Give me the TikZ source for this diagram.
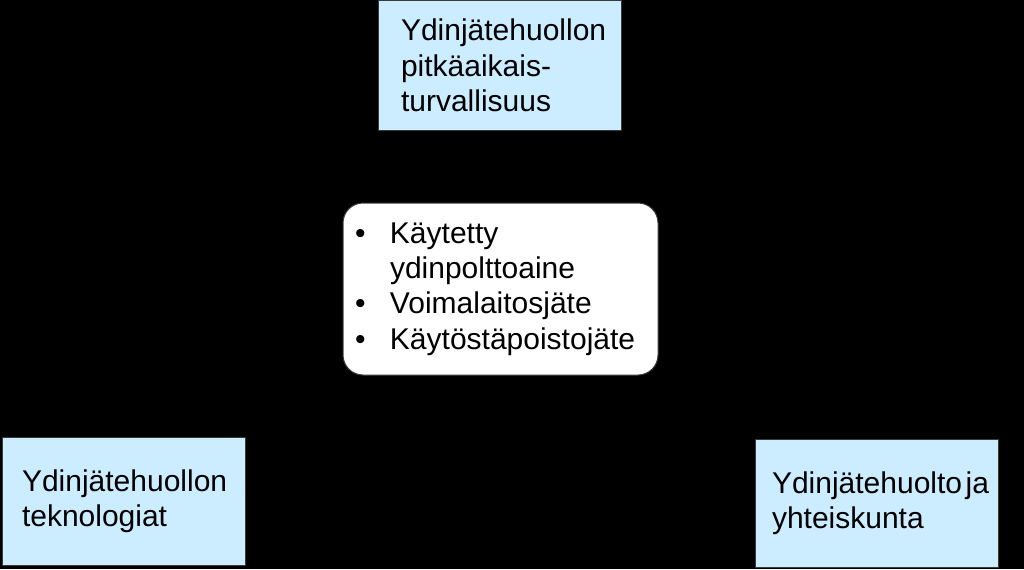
\documentclass[tikz,border=0pt]{standalone}
\usepackage{fontspec}
\setmainfont{Liberation Sans}
\definecolor{boxblue}{HTML}{CCECFF}
\definecolor{edge}{HTML}{3A3A3A}
\begin{document}
\begin{tikzpicture}[x=0.75pt,y=0.75pt,
  every node/.style={font=\fontsize{22.5pt}{26.5pt}\selectfont, text=black},
  bluebox/.style={draw=edge, line width=0.75pt, fill=boxblue, rectangle,
    minimum width=182.25pt, minimum height=96pt, inner xsep=#1, inner ysep=0pt,
    text width=182.25pt-2*#1, align=left},
  wastebox/.style={draw=edge, line width=0.75pt, fill=white, rectangle, rounded corners=15pt,
    minimum width=236.25pt, minimum height=129pt, inner xsep=9pt, inner ysep=0pt,
    text width=218.25pt, align=left}]
\fill[black] (0,0) rectangle (1024,569);
\useasboundingbox (0,0) rectangle (1024,569);
\node[bluebox=17.25pt, minimum height=96.75pt] (top) at (499.5,503.5)
  {Ydinjätehuollon\\pitkäaikais-\\turvallisuus};
\node[wastebox] (waste) at (500.5,280)
  {\makebox[26.25pt][l]{•}Käytetty\\\hspace*{26.25pt}ydinpolttoaine\\\makebox[26.25pt][l]{•}Voimalaitosjäte\\\makebox[26.25pt][l]{•}Käytöstäpoistojäte};
\node[bluebox=15pt] (tech) at (123.5,68)
  {Ydinjätehuollon\\teknologiat};
\node[bluebox=12.75pt] (soc) at (876.5,66)
  {\mbox{Ydinjätehuolto\hspace{0.12em}ja}\\yhteiskunta};
\end{tikzpicture}
\end{document}
